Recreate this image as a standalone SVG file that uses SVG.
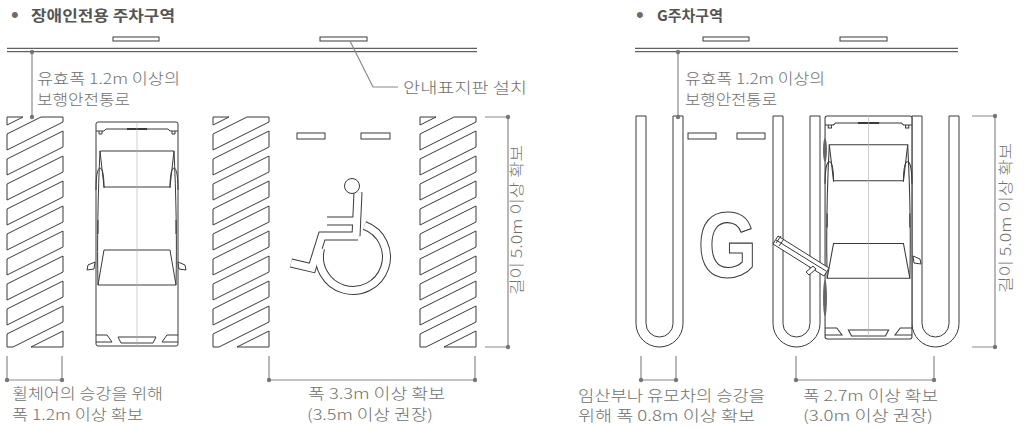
<svg xmlns="http://www.w3.org/2000/svg" xmlns:xlink="http://www.w3.org/1999/xlink" width="1027" height="430" viewBox="0 0 1027 430">
  <style>
    .ln { fill: none; stroke: #3a3a3a; stroke-width: 1; }
    .fw { fill: #fff; stroke: #3a3a3a; stroke-width: 1; }
    .dim { fill: none; stroke: #8a8a8a; stroke-width: 1.2; }
    .dot { fill: #767676; }
    .lbl { font-family: "Noto Sans CJK KR", "Noto Sans", sans-serif; font-size: 15px; font-weight: 300; fill: #707070; }
    .ttl { font-weight: bold; fill: #555; }
    .bul { font-family: "Liberation Sans", sans-serif; font-size: 22px; fill: #6b6b6b; }
  </style>
  <defs>
    <!-- diagonal striped no-parking strip, 56 x 230 -->
    <g id="hatch" class="fw">
      <polygon points="0,0 16,0 0,8"/>
      <polygon points="0,17 0,33 56,5 56,0 34,0"/>
      <polygon points="0,42 0,58 56,30 56,14"/>
      <polygon points="0,67 0,83 56,55 56,39"/>
      <polygon points="0,92 0,108 56,80 56,64"/>
      <polygon points="0,117 0,133 56,105 56,89"/>
      <polygon points="0,142 0,158 56,130 56,114"/>
      <polygon points="0,167 0,183 56,155 56,139"/>
      <polygon points="0,192 0,208 56,180 56,164"/>
      <polygon points="0,217 0,230 6,230 56,205 56,189"/>
      <polygon points="24,230 56,214 56,230"/>
    </g>
    <!-- U-shaped bay marking, 47 x 231 -->
    <path id="ubay" class="fw" d="M0,0 V207.5 A23.5,23.5 0 0 0 47,207.5 V0 H37 V207.5 A13.5,13.5 0 0 1 10,207.5 V0 Z"/>
    <!-- car seen from above, 84 x 224 -->
    <g id="car" class="ln">
      <path class="fw" d="M1,2 Q1,0 3,0 H81 Q83,0 83,2 V222 Q83,224 81,224 H3 Q1,224 1,222 Z"/>
      <path d="M1,9 H9 L11,7 H73 L75,9 H83"/>
      <path d="M4,9 V12 H7 V9 M77,9 V12 H80 V9"/>
      <path d="M32,7 H52" stroke-width="2"/>
      <path d="M5,29 H79 L75,65 H9 Z"/>
      <path d="M9,128 H75 L81,163 H3 Z"/>
      <path d="M5,29 C3,70 2,120 3,163 M79,29 C81,70 82,120 81,163"/>
      <path d="M1,68 C1,52 3,46 5,46 C8,46 9,56 9,66 M83,68 C83,52 81,46 79,46 C76,46 75,56 75,66"/>
      <path d="M3,98 V112 M81,98 V112"/>
      <path d="M1,213 H12 L17,220 H1 M83,213 H72 L67,220 H83"/>
      <path d="M23,215 H61 L58,221 H26 Z"/>
      <path d="M42,0 V224" stroke="#b0b0b0" stroke-width="0.6"/>
    </g>
    <!-- wheelchair figure centre lines -->
    <g id="wc-lines" fill="none">
      <path d="M358,192 L356,236"/>
      <path d="M327,221 H357"/>
      <path d="M358,236 H322 L312,268 L291,263"/>
      <path d="M364.5,225.5 A33.5,33.5 0 1 1 320.6,248.3"/>
    </g>
  </defs>

  <!-- ===== accessible parking bay ===== -->
  <g id="title-left">
    <text class="bul" x="11" y="22">•</text>
    <text class="lbl ttl" x="31" y="20.5" textLength="144" lengthAdjust="spacingAndGlyphs">장애인전용 주차구역</text>
  </g>

  <g id="walkway-left">
    <path class="ln" d="M7,48.3 H477 M7,51.7 H477"/>
  </g>
  <g id="signs-left">
    <rect class="fw" x="113" y="37" width="46" height="4"/>
    <rect class="fw" x="320" y="37" width="47" height="4"/>
  </g>

  <g id="hatch-1"><use xlink:href="#hatch" x="7" y="117"/></g>
  <g id="hatch-2"><use xlink:href="#hatch" x="213" y="117"/></g>
  <g id="hatch-3"><use xlink:href="#hatch" x="420" y="117"/></g>

  <g id="car-left">
    <use xlink:href="#car" transform="translate(95,122)"/>
    <path class="fw" d="M95,262 L88,265 L87,270 L94,269 Z"/>
    <path class="fw" d="M178,262 L185,265 L186,270 L179,269 Z"/>
  </g>

  <g id="stall-marks-left">
    <rect class="fw" x="297" y="133" width="28" height="6"/>
    <rect class="fw" x="361" y="133" width="29" height="6"/>
  </g>

  <g id="wheelchair">
    <use xlink:href="#wc-lines" stroke="#3a3a3a" stroke-width="9"/>
    <use xlink:href="#wc-lines" stroke="#fff" stroke-width="7"/>
    <circle class="fw" cx="352" cy="186" r="7.5"/>
  </g>

  <!-- ===== family (G) parking bay ===== -->
  <g id="title-right">
    <text class="bul" x="636" y="22">•</text>
    <text class="lbl ttl" x="657" y="20.5" textLength="66" lengthAdjust="spacingAndGlyphs">G주차구역</text>
  </g>

  <g id="walkway-right">
    <path class="ln" d="M635,48.3 H958 M635,51.7 H958"/>
  </g>
  <g id="signs-right">
    <rect class="fw" x="703" y="37" width="46" height="4"/>
    <rect class="fw" x="840" y="37" width="47" height="4"/>
  </g>

  <g id="ubay-1"><use xlink:href="#ubay" x="636" y="116"/></g>
  <g id="ubay-2"><use xlink:href="#ubay" x="773" y="116"/></g>
  <g id="ubay-3"><use xlink:href="#ubay" x="912" y="116"/></g>

  <g id="stall-marks-right">
    <rect class="fw" x="688" y="133" width="28" height="6"/>
    <rect class="fw" x="737" y="133" width="28" height="6"/>
  </g>

  <g id="g-mark">
    <text transform="translate(727.5,277) scale(0.82,1)" text-anchor="middle" font-family="Liberation Sans, Arial, sans-serif" font-weight="bold" font-size="93" fill="#fff" stroke="#3a3a3a" stroke-width="1.2">G</text>
  </g>

  <g id="car-right">
    <use xlink:href="#car" transform="translate(824,116) scale(1.0595,0.9955)"/>
    <path class="fw" d="M913,256 L920,259 L921,264 L914,263 Z"/>
    <ellipse cx="825" cy="150" rx="2" ry="12" fill="#666"/>
    <ellipse cx="825" cy="298" rx="2" ry="18" fill="#666"/>
    <!-- opened front-left door -->
    <path class="fw" d="M778,236 L829,268 L824,276 L773,244 Z"/>
    <path class="ln" d="M776,240 L826,271 M776,243 L781,236 M779,246 L784,239"/>
    <path class="fw" d="M806,272 L813,266 L816,269 L809,275 Z"/>
  </g>

  <!-- ===== dimensions, leaders ===== -->
  <g id="connectors">
    <!-- left bay -->
    <path class="dim" d="M32,52 V117"/>
    <path class="dim" d="M350,41 L373,87 H398"/>
    <path class="dim" d="M485,117 H508 M485,347 H508 M508,117 V347"/>
    <path class="dim" d="M7,356 V380 M62,356 V380 M7,380 H62"/>
    <path class="dim" d="M269,356 V380 M475,356 V380 M269,380 H475"/>
    <!-- right bay -->
    <path class="dim" d="M678,52 V117"/>
    <path class="dim" d="M972,116 H995 M972,347 H995 M995,116 V347"/>
    <path class="dim" d="M641,356 V380 M676,356 V380 M641,380 H676"/>
    <path class="dim" d="M796,356 V380 M934,356 V380 M796,380 H934"/>
    <g class="dot">
      <circle cx="32" cy="52" r="2.2"/><circle cx="32" cy="117" r="2.2"/>
      <circle cx="508" cy="117" r="2.2"/><circle cx="508" cy="347" r="2.2"/>
      <circle cx="7" cy="380" r="2.2"/><circle cx="62" cy="380" r="2.2"/>
      <circle cx="269" cy="380" r="2.2"/><circle cx="475" cy="380" r="2.2"/>
      <circle cx="678" cy="52" r="2.2"/><circle cx="678" cy="117" r="2.2"/>
      <circle cx="995" cy="116" r="2.2"/><circle cx="995" cy="347" r="2.2"/>
      <circle cx="641" cy="380" r="2.2"/><circle cx="676" cy="380" r="2.2"/>
      <circle cx="796" cy="380" r="2.2"/><circle cx="934" cy="380" r="2.2"/>
    </g>
  </g>

  <g id="labels">
    <text class="lbl" x="37" y="84" textLength="143" lengthAdjust="spacingAndGlyphs">유효폭 1.2m 이상의</text>
    <text class="lbl" x="37" y="105" textLength="93" lengthAdjust="spacingAndGlyphs">보행안전통로</text>
    <text class="lbl" x="403" y="93" textLength="124" lengthAdjust="spacingAndGlyphs">안내표지판 설치</text>
    <text class="lbl" text-anchor="middle" transform="translate(522,220) rotate(-90)" textLength="150" lengthAdjust="spacingAndGlyphs">길이 5.0m 이상 확보</text>
    <text class="lbl" x="12" y="399" textLength="151" lengthAdjust="spacingAndGlyphs">휠체어의 승강을 위해</text>
    <text class="lbl" x="12" y="420" textLength="131" lengthAdjust="spacingAndGlyphs">폭 1.2m 이상 확보</text>
    <text class="lbl" x="308" y="399" textLength="137" lengthAdjust="spacingAndGlyphs">폭 3.3m 이상 확보</text>
    <text class="lbl" x="307" y="420" textLength="126" lengthAdjust="spacingAndGlyphs">(3.5m 이상 권장)</text>

    <text class="lbl" x="685" y="84" textLength="140" lengthAdjust="spacingAndGlyphs">유효폭 1.2m 이상의</text>
    <text class="lbl" x="685" y="105" textLength="92" lengthAdjust="spacingAndGlyphs">보행안전통로</text>
    <text class="lbl" text-anchor="middle" transform="translate(1011,218) rotate(-90)" textLength="150" lengthAdjust="spacingAndGlyphs">길이 5.0m 이상 확보</text>
    <text class="lbl" x="578" y="401" textLength="187" lengthAdjust="spacingAndGlyphs">임산부나 유모차의 승강을</text>
    <text class="lbl" x="578" y="421" textLength="177" lengthAdjust="spacingAndGlyphs">위해 폭 0.8m 이상 확보</text>
    <text class="lbl" x="803" y="401" textLength="135" lengthAdjust="spacingAndGlyphs">폭 2.7m 이상 확보</text>
    <text class="lbl" x="803" y="421" textLength="130" lengthAdjust="spacingAndGlyphs">(3.0m 이상 권장)</text>
  </g>
</svg>
